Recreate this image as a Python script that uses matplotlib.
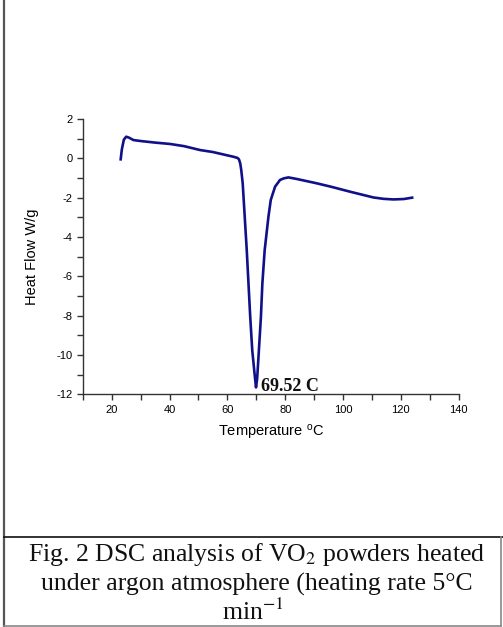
import matplotlib
matplotlib.use("Agg")
import matplotlib.pyplot as plt
from matplotlib.lines import Line2D
from matplotlib.ticker import MultipleLocator

# DSC curve
temperature = [23.1, 23.5, 24.2, 25.0, 26.0, 27.5, 30.0, 35.0, 40.2, 45.0, 50.6,
               55.0, 60.0, 62.1, 63.5, 64.0, 64.45, 64.8, 65.3, 66.7, 67.9,
               68.6, 69.5, 69.9, 70.3, 70.9, 71.6, 72.1, 72.9, 74.2, 75.0,
               76.5, 78.2, 79.5, 81.1, 84.0, 90.9, 96.0, 102.5, 110.5,
               114.0, 117.4, 121.0, 123.9]
heat_flow = [-0.05, 0.45, 0.95, 1.10, 1.05, 0.93, 0.88, 0.80, 0.73, 0.62, 0.42,
             0.32, 0.15, 0.08, 0.02, -0.05, -0.26, -0.60, -1.27, -4.67, -8.06,
             -9.76, -11.10, -11.65, -11.20, -9.76, -8.06, -6.36, -4.67, -2.97, -2.12,
             -1.44, -1.10, -1.02, -0.97, -1.05, -1.27, -1.45, -1.70, -1.99,
             -2.06, -2.09, -2.07, -2.00]

peak_temp = 69.52
peak_label = "69.52 C"

W, H = 503, 627
fig = plt.figure(figsize=(W / 100, H / 100), dpi=100)
plt.rcParams["mathtext.fontset"] = "stix"

ax = fig.add_axes([82.8 / W, 1 - 394.3 / H, (458.7 - 82.8) / W, (394.3 - 119) / H])
ax.plot(temperature, heat_flow, color="#10108a", lw=1.9, solid_joinstyle="round")

ax.set_xlim(10, 140)
ax.set_ylim(-12, 2)
ax.xaxis.set_major_locator(MultipleLocator(20))
ax.xaxis.set_minor_locator(MultipleLocator(10))
ax.yaxis.set_major_locator(MultipleLocator(2))
ax.yaxis.set_minor_locator(MultipleLocator(1))
for side in ["top", "right"]:
    ax.spines[side].set_visible(False)
for side in ["left", "bottom"]:
    ax.spines[side].set_color("#333333")
    ax.spines[side].set_linewidth(1.0)
ax.tick_params(which="both", direction="out", length=4.5, width=1.0, color="#333333",
               labelsize=8, pad=3)
ax.set_xticks([20, 40, 60, 80, 100, 120, 140])
ax.set_xticklabels(["20", "40", "60", "80", "100", "120", "140"], fontfamily="Liberation Sans")
ax.set_yticks([2, 0, -2, -4, -6, -8, -10, -12])
ax.set_yticklabels(["2", "0", "-2", "-4", "-6", "-8", "-10", "-12"], fontfamily="Liberation Sans")

ax.set_xlabel(r"Temperature $^{\mathregular{o}}$C", fontfamily="Liberation Sans",
              fontsize=10.5, labelpad=6)
ax.set_ylabel("Heat Flow W/g", fontfamily="Liberation Sans", fontsize=10.5, labelpad=12)

ax.text(peak_temp + 2.0, -11.85, peak_label, fontfamily="Liberation Serif",
        fontweight="bold", fontsize=13, color="#111111", ha="left", va="baseline")

# page borders and caption box
def px_line(x0, y0, x1, y1, color, lw):
    fig.add_artist(Line2D([x0 / W, x1 / W], [1 - y0 / H, 1 - y1 / H],
                          transform=fig.transFigure, color=color, lw=lw))

px_line(4, 0, 4, 627, "#555555", 1.6)
px_line(4, 537, 503, 537, "#111111", 1.2)
px_line(4, 625.5, 501, 625.5, "#888888", 1.2)
px_line(501, 537, 501, 626, "#888888", 1.2)

cap_kw = dict(fontfamily="Liberation Serif", fontsize=18.5, ha="center",
              va="baseline", color="#111111")
fig.text(257 / W, 1 - 561 / H, r"Fig. 2 DSC analysis of VO$_2$ powders heated", **cap_kw)
fig.text(257 / W, 1 - 591 / H, "under argon atmosphere (heating rate 5°C", **cap_kw)
fig.text(253 / W, 1 - 620 / H, r"min$^{-1}$", **cap_kw)

fig.savefig("out.png", dpi=100)
